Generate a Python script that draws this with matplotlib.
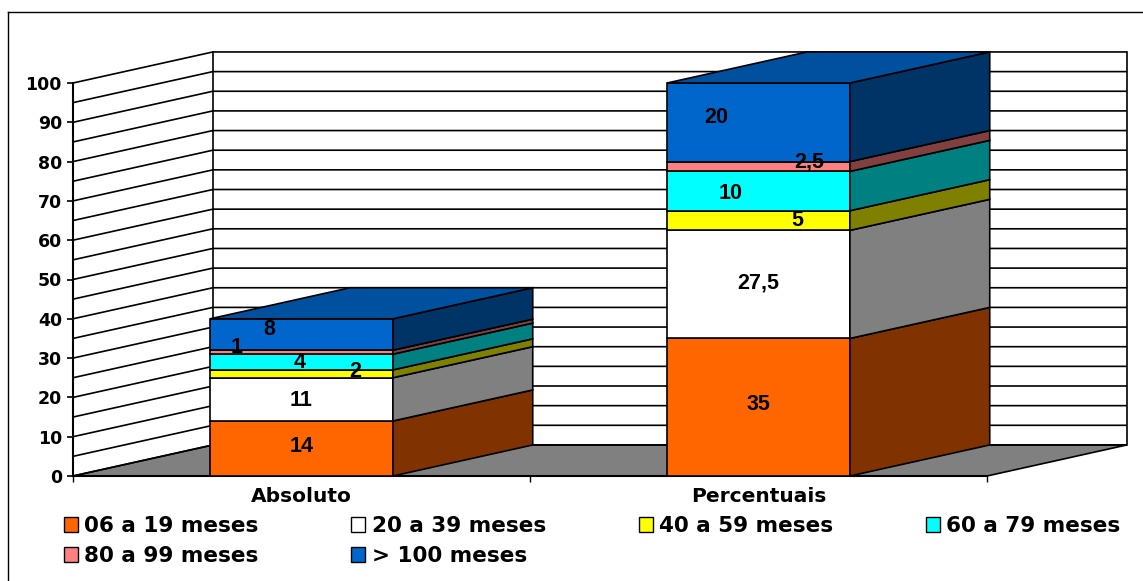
import matplotlib
matplotlib.use("Agg")
import matplotlib.pyplot as plt
from matplotlib.patches import Polygon, Patch
from matplotlib.lines import Line2D

categories = ["Absoluto", "Percentuais"]
series = ["06 a 19 meses", "20 a 39 meses", "40 a 59 meses",
          "60 a 79 meses", "80 a 99 meses", "> 100 meses"]
absoluto = [14, 11, 2, 4, 1, 8]
percentuais = [35, 27.5, 5, 10, 2.5, 20]
value_labels = [["14", "11", "2", "4", "1", "8"],
                ["35", "27,5", "5", "10", "2,5", "20"]]
y_ticks = list(range(0, 101, 10))

front_colors = ["#FF6600", "#FFFFFF", "#FFFF00", "#00FFFF", "#FF8080", "#0066CC"]
side_colors = ["#803300", "#808080", "#808000", "#008080", "#804040", "#003366"]
top_color = "#0050A0"

# where excel dropped the data labels (nudge from segment middle)
label_dx = [[0, 0, 0.117, -0.005, -0.141, -0.071],
            [0, 0, 0.084, -0.062, 0.11, -0.093]]
label_dy = [[0.4, -0.2, 0.5, 0, 1.3, 1.2],
            [0.6, 0.3, 0, -0.5, 1.1, 1.1]]

DX, DY = 0.306, 7.9   # depth of the fake 3d box, in data units
BAR_W = 0.4
LW = 1.2

plt.rcParams['font.family'] = ['DejaVu Sans']
plt.rcParams['font.weight'] = 'bold'

fig = plt.figure(figsize=(11.43, 5.81), dpi=100)
ax = fig.add_axes([73 / 1143, 105 / 581, 914 / 1143, 393 / 581])
ax.set_xlim(0, 2)
ax.set_ylim(0, 100)
ax.patch.set_visible(False)

# floor
ax.add_patch(Polygon([(0, 0), (2, 0), (2 + DX, DY), (DX, DY)], closed=True,
                     fc="#808080", ec="black", lw=LW, clip_on=False, zorder=1))
# side wall + back wall gridlines
for v in range(0, 101, 5):
    ax.plot([0, DX, 2 + DX], [v, v + DY, v + DY], color="black", lw=LW,
            clip_on=False, zorder=1.5, solid_capstyle='butt')
for xx in [DX, 2 + DX]:
    ax.plot([xx, xx], [DY, 100 + DY], color="black", lw=LW, clip_on=False, zorder=1.5)

# stacked 3d-looking bars
for i, vals in enumerate([absoluto, percentuais]):
    left = i + 0.5 - BAR_W / 2
    right = left + BAR_W
    bottom = 0
    for j, v in enumerate(vals):
        top = bottom + v
        ax.bar(left, v, width=BAR_W, bottom=bottom, align='edge',
               color=front_colors[j], edgecolor='black', lw=LW, zorder=3, clip_on=False)
        ax.add_patch(Polygon([(right, bottom), (right + DX, bottom + DY),
                              (right + DX, top + DY), (right, top)], closed=True,
                             fc=side_colors[j], ec='black', lw=LW, zorder=3, clip_on=False))
        ax.text(i + 0.5 + label_dx[i][j], bottom + v / 2 + label_dy[i][j], value_labels[i][j],
                ha='center', va='center', fontsize=15.5, fontweight='bold',
                family=['Liberation Sans', 'DejaVu Sans'], zorder=5)
        bottom = top
    ax.add_patch(Polygon([(left, bottom), (right, bottom), (right + DX, bottom + DY),
                          (left + DX, bottom + DY)], closed=True,
                         fc=top_color, ec='black', lw=LW, zorder=3, clip_on=False))

for s in ['top', 'right']:
    ax.spines[s].set_visible(False)
for s in ['left', 'bottom']:
    ax.spines[s].set_linewidth(1.5)

ax.set_yticks(y_ticks)
ax.tick_params(axis='y', length=4.5, width=1.2, pad=3.5, labelsize=12.5)
ax.set_xticks([0, 1, 2])
ax.set_xticklabels([])
ax.set_xticks([0.5, 1.5], minor=True)
ax.set_xticklabels(categories, minor=True)
ax.tick_params(axis='x', which='major', length=4, width=1)
ax.tick_params(axis='x', which='minor', length=0, pad=8, labelsize=14.5)

# chart area border (left and top only visible)
fig.add_artist(Line2D([8 / 1143, 8 / 1143], [0, 1 - 12 / 581], transform=fig.transFigure,
                      color='black', lw=1))
fig.add_artist(Line2D([8 / 1143, 1], [1 - 12 / 581, 1 - 12 / 581], transform=fig.transFigure,
                      color='black', lw=1))

handles = [Patch(fc=c, ec='black', lw=1) for c in front_colors]
order = [0, 4, 1, 5, 2, 3]
fig.legend([handles[k] for k in order], [series[k] for k in order], ncol=4,
           loc='upper left', bbox_to_anchor=(64 / 1143, 1 - 516 / 581),
           frameon=False, fontsize=15.5, handlelength=0.65, handleheight=0.65,
           handletextpad=0.3, columnspacing=4.3, labelspacing=0.47,
           borderpad=0, borderaxespad=0)

fig.savefig("out.png", dpi=100, facecolor='white')
